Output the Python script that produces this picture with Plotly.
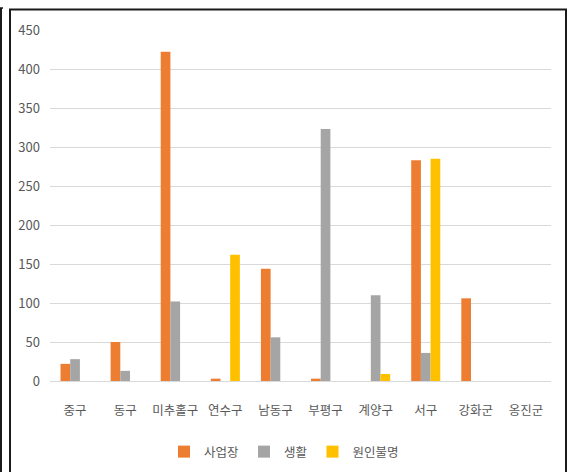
import plotly.graph_objects as go

categories = ["중구", "동구", "미추홀구", "연수구", "남동구", "부평구", "계양구", "서구", "강화군", "옹진군"]
series_names = ["사업장", "생활", "원인불명"]
workplace = [22, 50, 422, 3, 144, 3, 0, 283, 106, 0]
living = [28, 13, 102, 0, 56, 323, 110, 36, 0, 0]
unknown = [0, 0, 0, 162, 0, 0, 9, 285, 0, 0]
y_ticks = [0, 50, 100, 150, 200, 250, 300, 350, 400, 450]

colors = ["#ED7D31", "#A5A5A5", "#FFC000"]
FONT = "Noto Sans CJK KR"

W, H = 568, 472
L, R, T, B = 50, 17, 30, 91
pw, ph = W - L - R, H - T - B


def px_x(x):
    return (x - L) / pw


def px_y(y):
    return (H - B - y) / ph


fig = go.Figure()
for name, vals, col in zip(series_names, [workplace, living, unknown], colors):
    fig.add_trace(go.Bar(name=name, x=categories, y=vals, marker_color=col,
                         marker_line_width=0))

shapes = [
    # outer frame
    dict(type="rect", xref="paper", yref="paper",
         x0=px_x(10), x1=px_x(566), y0=px_y(480), y1=px_y(9.5),
         line=dict(color="#1a1a1a", width=2), layer="above"),
    dict(type="line", xref="paper", yref="paper",
         x0=px_x(1), x1=px_x(1), y0=px_y(480), y1=px_y(8),
         line=dict(color="#1a1a1a", width=2), layer="above"),
    dict(type="line", xref="paper", yref="paper",
         x0=px_x(0), x1=px_x(3), y0=px_y(8), y1=px_y(8),
         line=dict(color="#1a1a1a", width=1.5), layer="above"),
]

fig.update_layout(
    width=W, height=H,
    margin=dict(l=L, r=R, t=T, b=B, autoexpand=False),
    paper_bgcolor="white", plot_bgcolor="white",
    barmode="group", bargap=0.42, bargroupgap=0,
    font=dict(family=FONT, color="#595959", size=12),
    showlegend=True,
    legend=dict(orientation="h", x=px_x(284), xanchor="center",
                y=px_y(452), yanchor="middle",
                font=dict(family=FONT, size=12.5, color="#595959"),
                itemwidth=30, traceorder="normal"),
    shapes=shapes,
    xaxis=dict(showline=True, linecolor="#D9D9D9", linewidth=1,
               showgrid=False, ticks="", ticklabelstandoff=18,
               tickfont=dict(family=FONT, size=12.5, color="#595959"),
               automargin=False, fixedrange=True),
    yaxis=dict(range=[0, 450], tickvals=y_ticks, showgrid=True,
               gridcolor="#D9D9D9", gridwidth=1, zeroline=False,
               showline=False, ticks="", ticklabelstandoff=9,
               tickfont=dict(family=FONT, size=13, color="#595959"),
               automargin=False, fixedrange=True),
)

fig.write_html(
    "out.html",
    config={"displayModeBar": False},
    post_script="document.body.style.margin='0';document.body.style.overflow='hidden';",
)
